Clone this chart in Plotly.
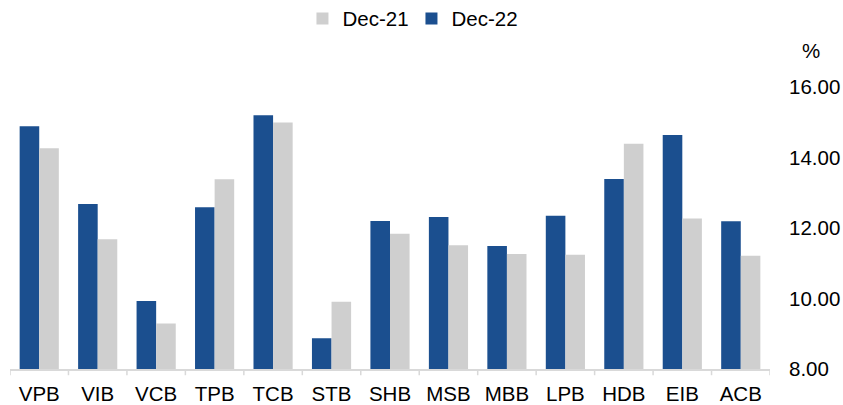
import plotly.graph_objects as go

banks = ["VPB", "VIB", "VCB", "TPB", "TCB", "STB", "SHB", "MSB", "MBB", "LPB", "HDB", "EIB", "ACB"]
dec22 = [14.89, 12.68, 9.93, 12.59, 15.20, 8.87, 12.20, 12.31, 11.49, 12.35, 13.39, 14.64, 12.19]
dec21 = [14.26, 11.68, 9.29, 13.38, 14.99, 9.91, 11.84, 11.51, 11.26, 11.24, 14.39, 12.27, 11.21]

BLUE = "#1B4F8F"
GREY = "#CFCFCF"
AXIS = "#D9D9D9"
FONT = "Liberation Sans, Arial, sans-serif"
FS = 20.5

fig = go.Figure()
fig.add_trace(go.Bar(x=banks, y=dec22, name="Dec-22", marker_color=BLUE, marker_line_width=0))
fig.add_trace(go.Bar(x=banks, y=dec21, name="Dec-21", marker_color=GREY, marker_line_width=0))

# tick marks at category boundaries
tick_shapes = [
    dict(type="line", xref="x", yref="paper", x0=i - 0.5, x1=i - 0.5, y0=0, y1=-0.022,
         line=dict(color=AXIS, width=1.5), layer="below")
    for i in range(len(banks) + 1)
]

fig.update_layout(
    template="none",
    width=843, height=405,
    margin=dict(l=10, r=73, t=87, b=36, autoexpand=False),
    paper_bgcolor="white", plot_bgcolor="white",
    barmode="group", bargap=0.33, bargroupgap=0,
    font=dict(family=FONT, size=FS, color="#000000"),
    showlegend=True,
    legend=dict(orientation="h", x=0.3588, xanchor="left", xref="container",
                y=0.954, yanchor="middle", yref="container", traceorder="reversed",
                entrywidth=64, font=dict(size=FS), bgcolor="rgba(0,0,0,0)"),
    xaxis=dict(showline=True, linecolor=AXIS, linewidth=1.5, automargin=False,
               range=[-0.5, len(banks) - 0.5], zeroline=False,
               ticks="", showgrid=False, tickfont=dict(size=FS), ticklabelstandoff=6),
    yaxis=dict(side="right", range=[8, 16], dtick=2, tickformat=".2f", automargin=False,
               showgrid=False, showline=False, zeroline=False, ticks="",
               tickfont=dict(size=FS), ticklabelstandoff=18),
    shapes=tick_shapes,
    annotations=[dict(text="%", xref="paper", yref="paper", x=1.04, y=1.08,
                      xanchor="left", yanchor="bottom", showarrow=False,
                      font=dict(size=FS))],
)

fig.write_html("out.html")
